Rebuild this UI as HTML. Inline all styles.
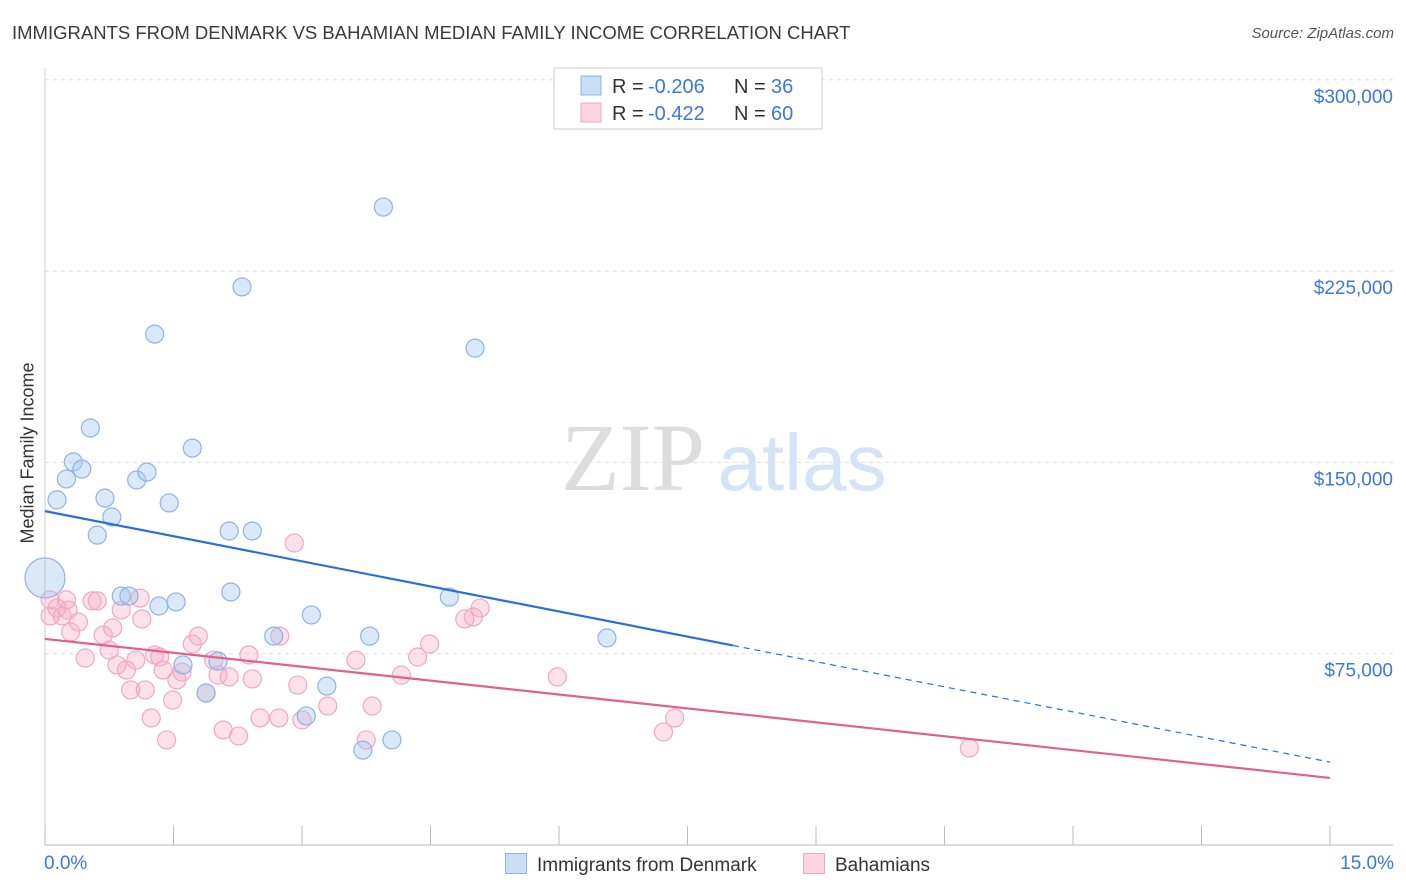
<!DOCTYPE html>
<html><head><meta charset="utf-8">
<style>
body{margin:0;background:#fff;font-family:"Liberation Sans",sans-serif;}
#wrap{position:relative;width:1406px;height:892px;overflow:hidden;}
.t{position:absolute;white-space:nowrap;}
</style></head>
<body>
<div id="wrap">
<div class="t" style="left:12px;top:22px;font-size:18.5px;color:#3a3a3a;">IMMIGRANTS FROM DENMARK VS BAHAMIAN MEDIAN FAMILY INCOME CORRELATION CHART</div>
<div class="t" style="right:12px;top:25px;font-size:15px;color:#555;font-style:italic;">Source: ZipAtlas.com</div>
<svg id="svg" width="1406" height="892" style="position:absolute;left:0;top:0"></svg>
</div>
<script>
const blueX=[0,0.14,0.25,0.33,0.43,0.53,0.61,0.70,0.78,0.89,0.98,1.07,1.19,1.28,1.33,1.45,1.53,1.61,1.72,1.88,2.02,2.17,2.15,2.30,2.42,2.67,3.05,3.11,3.29,3.71,3.79,3.95,4.05,4.72,5.02,6.56];
const blueY=[104.7,135.3,143.5,150.2,147.4,163.5,121.5,136,128.6,97.6,97.6,143.1,146.2,200.3,93.7,134.1,95.3,70.6,155.6,59.6,72.1,99.2,123.1,218.8,123.1,81.9,50.6,90.2,62.3,37.2,81.9,250.1,41.2,97.2,194.8,81.2];
const pinkX=[0.06,0.06,0.14,0.20,0.27,0.30,0.39,0.47,0.55,0.61,0.68,0.75,0.79,0.84,0.89,0.95,1.00,1.06,1.13,1.17,1.24,1.28,1.34,1.38,1.42,1.49,1.54,1.60,1.72,1.79,1.88,1.97,2.02,2.08,2.15,2.26,2.38,2.42,2.51,2.73,2.74,2.91,2.95,3.00,3.30,3.63,3.75,3.82,4.16,4.35,4.49,4.90,5.00,5.08,5.98,7.22,7.35,10.79,0.25,1.11];
const pinkY=[96.1,89.8,92.9,89.8,92.1,83.5,87.4,73.3,95.7,95.7,82.3,76.4,85.1,70.6,92.1,68.6,60.8,72.5,88.6,60.8,49.8,74.5,73.7,68.6,41.2,56.8,64.7,67.8,78.8,81.9,59.6,72.5,66.6,45.1,65.9,42.7,74.5,65.1,49.8,49.8,81.9,118.4,62.7,49.0,54.5,72.5,41.2,54.5,66.6,73.7,78.8,88.6,89.4,92.9,65.9,44.3,49.8,38.0,96.1,96.8];
const yTicks=[75,150,225,300];
const yTickLabels=["$75,000","$150,000","$225,000","$300,000"];
const blueTrend=[130.9,32.5], blueSolidEnd=8.03;
const pinkTrend=[80.8,26.3];
const legendR=["-0.206","-0.422"], legendN=["36","60"];

const X=v=>45+v/15*1285;
const Y=v=>845-v/75*191.3;
const svg=document.getElementById('svg');
const NS='http://www.w3.org/2000/svg';
function mk(tag,a,parent){const e=document.createElementNS(NS,tag);for(const k in a)e.setAttribute(k,a[k]);(parent||svg).appendChild(e);return e;}

yTicks.forEach((t,i)=>{
  const g=mk('line',{x1:45,x2:1393,y1:Y(t),y2:Y(t),stroke:'#ddd','stroke-dasharray':'4,4'});
  
  
  const tx=mk('text',{x:1393,y:Y(t)+23,'text-anchor':'end','font-size':19,fill:'#3b78d8','font-family':'Liberation Sans'});
  tx.textContent=yTickLabels[i];
  
  
});
let ax=mk('line',{x1:45,x2:1393,y1:845,y2:845,stroke:'#bbb'});


let ay=mk('line',{x1:45,x2:45,y1:68,y2:845,stroke:'#ccc'});


for(let i=0;i<=10;i++){
  const tk=mk('line',{x1:X(i*1.5),x2:X(i*1.5),y1:826,y2:845,stroke:'#bbb'});
  
  
}
let wm=mk('text',{x:633,y:490,'text-anchor':'middle','font-size':96,fill:'#ddd','font-family':'Liberation Serif'});
wm.textContent='ZIP';


let wm2=mk('text',{x:802,y:490,'text-anchor':'middle','font-size':80,fill:'#d4e3f6','font-family':'Liberation Sans'});
wm2.textContent='atlas';



pinkX.forEach((x,i)=>{
  const c=mk('circle',{cx:X(x),cy:Y(pinkY[i]),r:9,fill:'rgba(245,170,195,0.35)',stroke:'#efa9c2','stroke-width':1.2});
  
  
});
blueX.forEach((x,i)=>{
  const c=mk('circle',{cx:X(x),cy:Y(blueY[i]),r:i===0?20:9,fill:'rgba(165,198,236,0.4)',stroke:'#8db4e4','stroke-width':1.2});
  
  
});
const bAt=v=>blueTrend[0]+(blueTrend[1]-blueTrend[0])*v/15;
let bl=mk('line',{x1:X(0),y1:Y(bAt(0)),x2:X(blueSolidEnd),y2:Y(bAt(blueSolidEnd)),stroke:'#2970d6','stroke-width':2.2});


let bd=mk('line',{x1:X(blueSolidEnd),y1:Y(bAt(blueSolidEnd)),x2:X(15),y2:Y(bAt(15)),stroke:'#2970d6','stroke-width':1.2,'stroke-dasharray':'6,5'});


let pl=mk('line',{x1:X(0),y1:Y(pinkTrend[0]),x2:X(15),y2:Y(pinkTrend[1]),stroke:'#e0608f','stroke-width':2.2});



let lb=mk('rect',{x:554,y:68,width:268,height:61,fill:'#fff',stroke:'#ccc'});


[['rgba(165,198,236,0.6)','#8db4e4'],['rgba(245,170,195,0.5)','#efa9c2']].forEach((c,i)=>{
  const y=76+i*27;
  const r=mk('rect',{x:581,y:y,width:20,height:19,fill:c[0],stroke:c[1]});
  
  
  const parts=[[612,'R =','#333'],[648,legendR[i],'#3b78d8'],[734,'N =','#333'],[771,legendN[i],'#3b78d8']];
  parts.forEach(p=>{
    const t=mk('text',{x:p[0],y:y+17,'font-size':20,fill:p[2],'font-family':'Liberation Sans'});
    t.textContent=p[1];
    
    
  });
});
</script>
<div class="t" style="left:-60px;top:445px;width:176px;text-align:center;font-size:18px;color:#333;transform:rotate(-90deg);">Median Family Income</div>
<div class="t" style="left:44px;top:853px;font-size:19px;color:#3b78d8;">0.0%</div>
<div class="t" style="right:12px;top:853px;font-size:19px;color:#3b78d8;">15.0%</div>
<div class="t" style="left:505px;top:853px;font-size:19px;color:#333;"><span style="display:inline-block;width:20px;height:19px;background:rgba(165,198,236,0.6);border:1px solid #8db4e4;vertical-align:-3px;margin-right:10px;"></span>Immigrants from Denmark</div>
<div class="t" style="left:803px;top:853px;font-size:19px;color:#333;"><span style="display:inline-block;width:20px;height:19px;background:rgba(245,170,195,0.5);border:1px solid #efa9c2;vertical-align:-3px;margin-right:10px;"></span>Bahamians</div>
</body></html>
